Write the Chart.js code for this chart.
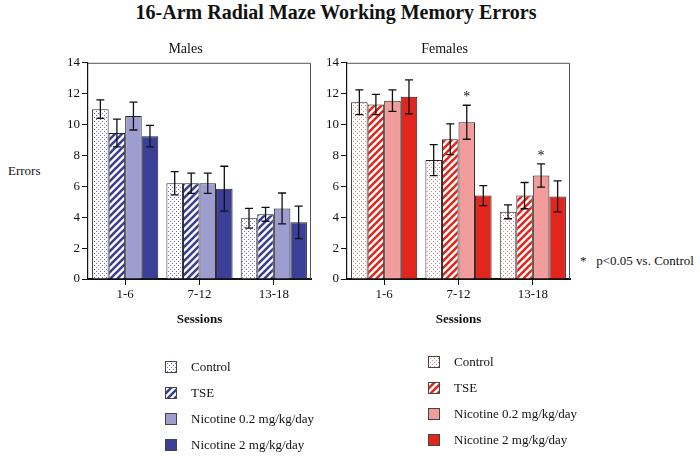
<!DOCTYPE html>
<html>
<head>
<meta charset="utf-8">
<script src="https://cdn.jsdelivr.net/npm/chart.js@4"></script>
<style>
body{margin:0;background:#fff;font-family:"Liberation Serif","Times New Roman",serif;color:#111;}
#wrap{position:relative;width:700px;height:456px;overflow:hidden;}
.txt{position:absolute;white-space:nowrap;}
canvas.plot{position:absolute;}
.leg{position:absolute;font-size:13px;}
.leg div{height:26px;display:flex;align-items:center;}
.leg canvas{margin-right:14px;}
</style>
</head>
<body>
<div id="wrap">
  <div class="txt" style="left:0;width:672px;top:1px;text-align:center;font-size:20px;font-weight:bold;">16-Arm Radial Maze Working Memory Errors</div>
  <div class="txt" style="left:8px;top:163px;font-size:13px;">Errors</div>
  <div class="txt" style="left:580px;top:253px;font-size:13px;">*&nbsp;&nbsp;&nbsp;p&lt;0.05 vs. Control</div>
  <canvas id="machos" class="plot" width="255" height="298" style="left:60px;top:35px;width:255px;height:298px;"></canvas>
  <canvas id="hembras" class="plot" width="255" height="298" style="left:319px;top:35px;width:255px;height:298px;"></canvas>
  <div id="legM" class="leg" style="left:165px;top:354px;"></div>
  <div id="legF" class="leg" style="left:428px;top:349px;"></div>
</div>
<script>
// datos
const sesiones=["1-6","7-12","13-18"];
const grupos=["Control","TSE","Nicotine 0.2 mg/kg/day","Nicotine 2 mg/kg/day"];

const machoControl=[11.0,6.2,3.93];
const machoTSE=[9.45,6.2,4.19];
const machoNic02=[10.55,6.2,4.57];
const machoNic2=[9.25,5.85,3.67];
const machoControlSE=[0.6,0.75,0.64];
const machoTSESE=[0.9,0.65,0.45];
const machoNic02SE=[0.9,0.65,1.0];
const machoNic2SE=[0.7,1.45,1.05];

const hembraControl=[11.45,7.7,4.35];
const hembraTSE=[11.3,9.05,5.4];
const hembraNic02=[11.55,10.15,6.7];
const hembraNic2=[11.8,5.4,5.35];
const hembraControlSE=[0.8,1.0,0.45];
const hembraTSESE=[0.65,1.0,0.85];
const hembraNic02SE=[0.7,1.1,0.75];
const hembraNic2SE=[1.1,0.65,1.0];
const hembraNic02Sig=[false,true,true];

const yTicks=[0,2,4,6,8,10,12,14];

const fuente="'Liberation Serif', serif";

// patrones
function puntos(color){
  const c=document.createElement("canvas");
  c.width=4;c.height=4;
  const g=c.getContext("2d");
  g.fillStyle="#fff";g.fillRect(0,0,4,4);
  g.fillStyle=color;
  g.fillRect(0,0,1,1);g.fillRect(2,2,1,1);
  return g.createPattern(c,"repeat");
}
function rayas(color){
  const c=document.createElement("canvas");
  c.width=7;c.height=7;
  const g=c.getContext("2d");
  g.fillStyle="#fff";g.fillRect(0,0,7,7);
  g.strokeStyle=color;g.lineWidth=2.6;
  g.beginPath();
  for(let k=-1;k<=1;k++){g.moveTo(k*7-1,8);g.lineTo(k*7+8,-1);}
  g.stroke();
  return g.createPattern(c,"repeat");
}

const coloresM=[puntos("#6a6eb8"),rayas("#3a3e95"),"#9d9dd0","#3b3f98"];
const coloresF=[puntos("#e88080"),rayas("#e0281e"),"#f29c9b","#e0261d"];

// barras de error + asteriscos
const errorBars={
  id:"errorBars",
  afterDatasetsDraw(chart){
    const ctx=chart.ctx;
    const y=chart.scales.y;
    chart.data.datasets.forEach((ds,i)=>{
      const meta=chart.getDatasetMeta(i);
      meta.data.forEach((bar,j)=>{
        const v=ds.data[j],se=ds.se[j];
        const top=y.getPixelForValue(v+se),bot=y.getPixelForValue(v-se);
        ctx.save();
        ctx.strokeStyle="#111";ctx.lineWidth=1.3;
        ctx.beginPath();
        ctx.moveTo(bar.x,top);ctx.lineTo(bar.x,bot);
        ctx.moveTo(bar.x-4,top);ctx.lineTo(bar.x+4,top);
        ctx.moveTo(bar.x-4,bot);ctx.lineTo(bar.x+4,bot);
        ctx.stroke();
        if(ds.sig&&ds.sig[j]){
          ctx.fillStyle="#111";
          ctx.font="14px "+fuente;
          ctx.textAlign="center";
          ctx.fillText("*",bar.x,top-4);
        }
        ctx.restore();
      });
    });
  },
  afterDraw(chart){
    const a=chart.chartArea,ctx=chart.ctx;
    ctx.save();
    ctx.strokeStyle="#555";ctx.lineWidth=1;
    ctx.beginPath();
    ctx.moveTo(a.left,a.top+0.5);ctx.lineTo(a.right-0.5,a.top+0.5);ctx.lineTo(a.right-0.5,a.bottom);
    ctx.stroke();
    ctx.restore();
  }
};

function grafico(id,titulo,series,errores,colores,sig){
  new Chart(document.getElementById(id),{
    type:"bar",
    data:{
      labels:sesiones,
      datasets:series.map((s,i)=>({
        label:grupos[i],data:s,se:errores[i],sig:sig?sig[i]:null,
        backgroundColor:colores[i],borderColor:"#222",borderWidth:1,
        categoryPercentage:0.89,barPercentage:1
      }))
    },
    options:{
      responsive:false,animation:false,
      layout:{padding:{right:4,left:0,top:0,bottom:0}},
      plugins:{
        legend:{display:false},tooltip:{enabled:false},
        title:{display:true,text:titulo,color:"#111",font:{family:fuente,size:14,weight:"normal"},padding:{top:6,bottom:5}}
      },
      scales:{
        x:{
          grid:{offset:false,drawOnChartArea:false,tickLength:6,color:"#111"},
          border:{color:"#111",width:2},
          ticks:{color:"#111",padding:2,font:{family:fuente,size:13}},
          title:{display:true,text:"Sessions",color:"#111",font:{family:fuente,size:13,weight:"bold"},padding:{top:4,bottom:6}},
          afterFit:s=>{s.height=54;}
        },
        y:{
          min:0,max:14,
          afterBuildTicks:s=>{s.ticks=yTicks.map(v=>({value:v}));},
          grid:{drawOnChartArea:false,tickLength:6,color:"#111"},
          border:{color:"#111",width:1.2},
          ticks:{color:"#111",padding:2,font:{family:fuente,size:13}},
          afterFit:s=>{s.width=28;}
        }
      }
    },
    plugins:[errorBars]
  });
}

// leyendas
function leyenda(id,colores){
  const cont=document.getElementById(id);
  grupos.forEach((g,i)=>{
    const fila=document.createElement("div");
    const c=document.createElement("canvas");
    c.width=12;c.height=12;
    const x=c.getContext("2d");
    x.fillStyle=colores[i];x.fillRect(0,0,12,12);
    x.strokeStyle="#444";x.lineWidth=1;x.strokeRect(0.5,0.5,11,11);
    fila.appendChild(c);
    const t=document.createElement("span");
    t.textContent=g;
    fila.appendChild(t);
    cont.appendChild(fila);
  });
}

function dibujarTodo(){
  Chart.defaults.font.family=fuente;
  grafico("machos","Males",
    [machoControl,machoTSE,machoNic02,machoNic2],
    [machoControlSE,machoTSESE,machoNic02SE,machoNic2SE],coloresM,null);
  grafico("hembras","Females",
    [hembraControl,hembraTSE,hembraNic02,hembraNic2],
    [hembraControlSE,hembraTSESE,hembraNic02SE,hembraNic2SE],coloresF,
    [null,null,hembraNic02Sig,null]);
  leyenda("legM",coloresM);
  leyenda("legF",coloresF);
}

Promise.all([
  document.fonts.load("13px 'Liberation Serif'"),
  document.fonts.load("bold 13px 'Liberation Serif'")
]).then(dibujarTodo,dibujarTodo);
</script>
</body>
</html>
